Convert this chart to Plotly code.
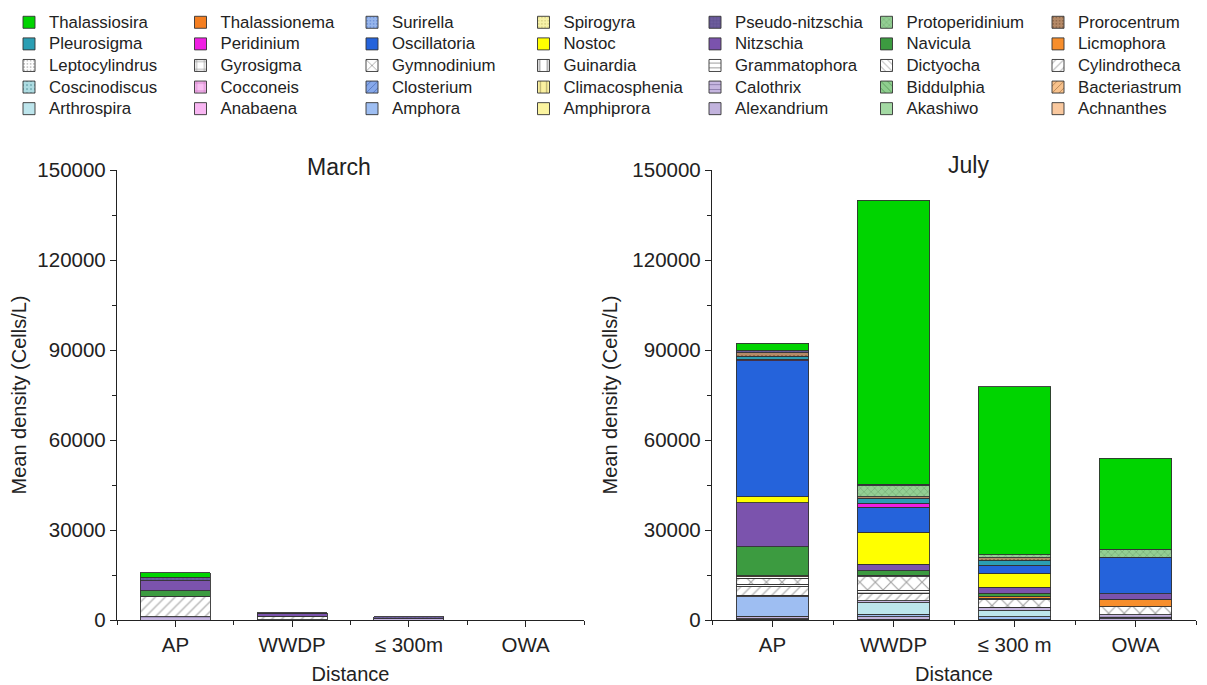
import plotly.graph_objects as go

# ---------------- data ----------------
species = [
    "Achnanthes", "Akashiwo", "Alexandrium", "Amphiprora", "Amphora",
    "Anabaena", "Arthrospira", "Bacteriastrum", "Biddulphia", "Calothrix",
    "Climacosphenia", "Closterium", "Cocconeis", "Coscinodiscus", "Cylindrotheca",
    "Dictyocha", "Grammatophora", "Guinardia", "Gymnodinium", "Gyrosigma",
    "Leptocylindrus", "Licmophora", "Navicula", "Nitzschia", "Nostoc",
    "Oscillatoria", "Peridinium", "Pleurosigma", "Prorocentrum", "Protoperidinium",
    "Pseudo-nitzschia", "Spirogyra", "Surirella", "Thalassionema", "Thalassiosira",
]

sites_march = ["AP", "WWDP", "≤ 300m", "OWA"]
sites_july = ["AP", "WWDP", "≤ 300 m", "OWA"]

# values (cells/L), one entry per species in the order above
march_ap = [0, 0, 0, 0, 0,  0, 0, 0, 0, 1100,  0, 0, 0, 0, 6900,  0, 0, 0, 0, 0,
            0, 0, 1800, 3300, 0,  0, 0, 0, 0, 0,  1100, 0, 0, 0, 1600]
march_wwdp = [0, 0, 0, 0, 0,  0, 0, 0, 0, 150,  0, 0, 0, 0, 1100,  0, 0, 0, 0, 0,
              0, 0, 0, 950, 0,  0, 0, 0, 0, 0,  200, 0, 0, 0, 0]
march_300 = [0, 0, 0, 0, 0,  0, 0, 0, 0, 500,  0, 0, 0, 0, 0,  0, 0, 0, 0, 0,
             0, 0, 0, 0, 0,  0, 0, 0, 0, 0,  600, 0, 0, 0, 0]
march_owa = [0, 0, 0, 0, 0,  0, 0, 0, 0, 0,  0, 0, 0, 0, 0,  0, 0, 0, 0, 0,
             0, 0, 0, 0, 0,  0, 0, 0, 0, 0,  0, 0, 0, 0, 0]

july_ap = [200, 300, 800, 0, 6500,  0, 0, 0, 0, 500,  0, 0, 0, 0, 2800,  0, 900, 0, 1900, 0,
           500, 300, 9700, 14700, 2000,  45400, 500, 1000, 1100, 0,  700, 0, 0, 0, 2400]
july_wwdp = [0, 300, 800, 0, 900,  0, 3800, 0, 0, 700,  0, 0, 0, 0, 2400,  0, 1100, 0, 4400, 600,
             0, 0, 1400, 2200, 10700,  8300, 1300, 1700, 500, 3600,  600, 0, 0, 0, 94700]
july_300 = [0, 0, 200, 0, 900,  0, 2000, 0, 0, 1100,  0, 0, 0, 0, 0,  0, 0, 0, 2700, 0,
            400, 600, 1000, 2100, 4600,  2600, 0, 1800, 800, 900,  0, 0, 0, 0, 56100]
july_owa = [0, 0, 400, 0, 500,  0, 0, 0, 0, 800,  0, 0, 0, 0, 0,  0, 0, 0, 2700, 0,
            0, 2300, 200, 1800, 0,  12200, 0, 0, 0, 2700,  0, 0, 0, 0, 30400]

# ---------------- styles: (fill, pattern shape, pattern colour, pattern size) ----------------
styles = {
    "Achnanthes": ("#F9C89E", "", None, 0),
    "Akashiwo": ("#A3D9A3", "", None, 0),
    "Alexandrium": ("#C2B3DD", "", None, 0),
    "Amphiprora": ("#FBF4A0", "", None, 0),
    "Amphora": ("#9EBEF2", "", None, 0),
    "Anabaena": ("#F8B6F2", "", None, 0),
    "Arthrospira": ("#BDE5EC", "", None, 0),
    "Bacteriastrum": ("#F8C28C", "/", "#7A4A20", 6),
    "Biddulphia": ("#8FCF8F", "\\", "#2E6A2E", 6),
    "Calothrix": ("#C6B6E0", "-", "#5A4A80", 6),
    "Climacosphenia": ("#FAF0A0", "|", "#7A7040", 8),
    "Closterium": ("#86A8EA", "/", "#2A4A9A", 6),
    "Cocconeis": ("#F8C0F2", "+", "#B040A0", 10),
    "Coscinodiscus": ("#AEDCE2", ".", "#3A8088", 5),
    "Cylindrotheca": ("#FFFFFF", "/", "#6E6E6E", 7),
    "Dictyocha": ("#FFFFFF", "\\", "#444444", 6),
    "Grammatophora": ("#FFFFFF", "-", "#333333", 6),
    "Guinardia": ("#FFFFFF", "|", "#444444", 10),
    "Gymnodinium": ("#FFFFFF", "x", "#444444", 11),
    "Gyrosigma": ("#FFFFFF", "+", "#333333", 10),
    "Leptocylindrus": ("#FFFFFF", ".", "#666666", 4),
    "Licmophora": ("#F78E2C", "", None, 0),
    "Navicula": ("#3C9B40", "", None, 0),
    "Nitzschia": ("#7B53AD", "", None, 0),
    "Nostoc": ("#FFFF00", "", None, 0),
    "Oscillatoria": ("#2563DB", "", None, 0),
    "Peridinium": ("#F01FE3", "", None, 0),
    "Pleurosigma": ("#2B9EB3", "", None, 0),
    "Prorocentrum": ("#B58A68", ".", "#5A3A20", 4),
    "Protoperidinium": ("#93CF93", "x", "#4A7A4A", 5),
    "Pseudo-nitzschia": ("#6E5E9E", "+", "#3A2E66", 4),
    "Spirogyra": ("#F7F2A8", ".", "#B8B060", 4),
    "Surirella": ("#97B6EC", ".", "#3A64C0", 4),
    "Thalassionema": ("#F47E20", "", None, 0),
    "Thalassiosira": ("#00D400", "", None, 0),
}

FONT = "Liberation Sans, Arial, sans-serif"
OFF = 8                      # page body margin offset
W, H = 1207 - OFF, 685 - OFF
PLOT_TOP, PLOT_BOT = 170 - OFF, 620 - OFF
L, R = 117 - OFF, 0
T, B = PLOT_TOP, H - PLOT_BOT
PW = W - L - R
PH = PLOT_BOT - PLOT_TOP


def dom(a, b):
    return [(a - OFF - L) / PW, (b - OFF - L) / PW]


march = [march_ap, march_wwdp, march_300, march_owa]
july = [july_ap, july_wwdp, july_300, july_owa]
xpos = list(range(len(sites_march)))

fig = go.Figure()
for i, sp in enumerate(species):
    bg, shape, fg, psize = styles[sp]
    mk = dict(color=bg, line=dict(color="#333333", width=0.9))
    if shape:
        mk["pattern"] = dict(shape=shape, fgcolor=fg, bgcolor=bg, size=psize, solidity=0.2)
    ym = [col[i] if col[i] else None for col in march]
    yj = [col[i] if col[i] else None for col in july]
    label = '<span style="font-size:16.8px">%s</span>' % sp
    fig.add_trace(go.Bar(x=xpos, y=ym, name=label, legendgroup=sp, marker=mk,
                         width=0.6, xaxis="x", yaxis="y"))
    fig.add_trace(go.Bar(x=xpos, y=yj, name=label, legendgroup=sp, marker=mk,
                         width=0.6, xaxis="x2", yaxis="y2", showlegend=False))

axis_common = dict(showline=True, linecolor="#222", linewidth=1.3, ticks="outside",
                   ticklen=6, tickwidth=1.3, tickcolor="#222", showgrid=False,
                   zeroline=False, tickfont=dict(size=20.5, color="#222", family=FONT))


def xax(d, labels, anchor):
    return dict(axis_common, domain=d, anchor=anchor, range=[-0.5, 3.5],
                tickmode="array", tickvals=xpos, ticktext=labels,
                minor=dict(tick0=0.5, dtick=1, ticks="outside", ticklen=4,
                           tickwidth=1.3, tickcolor="#222"),
                title=dict(text="Distance", standoff=15,
                           font=dict(size=20, color="#222", family=FONT)))


def yax(anchor):
    return dict(axis_common, anchor=anchor, range=[0, 150000], tick0=0, dtick=30000,
                tickformat="d",
                minor=dict(dtick=15000, ticks="outside", ticklen=4,
                           tickwidth=1.3, tickcolor="#222"),
                title=dict(text="Mean density (Cells/L)", standoff=9,
                           font=dict(size=20, color="#222", family=FONT)))


legend_top = -1.5
fig.update_layout(
    width=W, height=H,
    margin=dict(l=L, r=R, t=T, b=B, autoexpand=False),
    paper_bgcolor="white", plot_bgcolor="white",
    barmode="stack",
    font=dict(family=FONT, color="#222"),
    xaxis=xax(dom(117, 584), sites_march, "y"),
    yaxis=yax("x"),
    xaxis2=xax(dom(712, 1196), sites_july, "y2"),
    yaxis2=yax("x2"),
    showlegend=True,
    legend=dict(orientation="h", traceorder="reversed",
                x=(1 - L) / PW, xanchor="left", y=1 + (T - legend_top) / PH, yanchor="top",
                entrywidth=126.5, entrywidthmode="pixels",
                font=dict(size=14.3, family=FONT, color="#222"),
                bgcolor="rgba(0,0,0,0)"),
    annotations=[
        dict(text="March", xref="x domain", yref="paper", x=0.475, y=1 + 3 / PH,
             xanchor="center", yanchor="middle", showarrow=False,
             font=dict(size=23, family=FONT, color="#222")),
        dict(text="July", xref="x2 domain", yref="paper", x=0.529, y=1 + 5 / PH,
             xanchor="center", yanchor="middle", showarrow=False,
             font=dict(size=23, family=FONT, color="#222")),
    ],
)

fig.write_html("out.html")
